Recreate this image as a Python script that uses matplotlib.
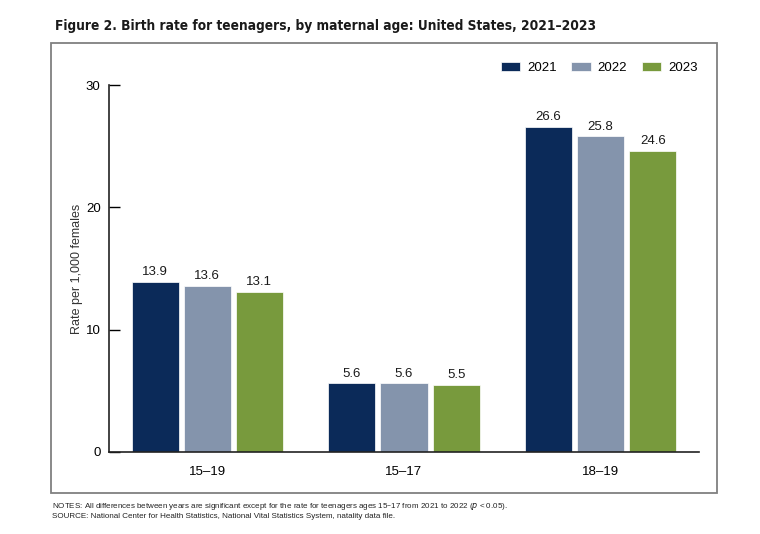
import matplotlib.pyplot as plt
import matplotlib.patches as mpatches
import numpy as np

# data
groups = ['15\u201319', '15\u201317', '18\u201319']
years = ['2021', '2022', '2023']
rate_2021 = [13.9, 5.6, 26.6]
rate_2022 = [13.6, 5.6, 25.8]
rate_2023 = [13.1, 5.5, 24.6]
colors = ['#0b2a59', '#8494ac', '#789a3d']

plt.rcParams['font.family'] = ['Liberation Sans', 'DejaVu Sans']

W, H = 760, 534
fig = plt.figure(figsize=(W / 100, H / 100), dpi=100)

# outer frame
frame = mpatches.Rectangle((51 / W, 1 - 493 / H), (717 - 51) / W, (493 - 43) / H,
                           transform=fig.transFigure, fill=False,
                           edgecolor='#808080', linewidth=1.3)
fig.patches.append(frame)

fig.text(55 / W, 1 - 26 / H,
         'Figure 2. Birth rate for teenagers, by maternal age: United States, 2021\u20132023',
         family=['DejaVu Sans'], fontstretch='condensed', fontweight='bold',
         fontsize=9.8, va='center', ha='left', color='#1a1a1a')

ax = fig.add_axes([109 / W, 1 - 452 / H, (699 - 109) / W, (452 - 85) / H])

x = np.arange(len(groups))
width = 0.24
step = 0.265
for i, (vals, c) in enumerate(zip([rate_2021, rate_2022, rate_2023], colors)):
    bars = ax.bar(x + (i - 1) * step, vals, width, color=c, label=years[i],
                  edgecolor='white', linewidth=0.5)
    for b, v in zip(bars, vals):
        ax.text(b.get_x() + b.get_width() / 2, v + 0.3, f'{v:.1f}',
                ha='center', va='bottom', fontsize=9.5, color='#1a1a1a')

ax.set_xlim(-0.5, 2.5)
ax.set_ylim(0, 30)
ax.set_yticks([0, 10, 20, 30])
ax.set_xticks(x)
ax.set_xticklabels(groups)
ax.tick_params(axis='y', direction='in', length=8, width=1, labelsize=9.5, pad=6)
ax.tick_params(axis='x', length=0, labelsize=9.5, pad=10)
for s in ['top', 'right']:
    ax.spines[s].set_visible(False)
for s in ['left', 'bottom']:
    ax.spines[s].set_linewidth(1.2)
    ax.spines[s].set_color('#222222')
ax.set_ylabel('Rate per 1,000 females', fontsize=9, labelpad=2, color='#333333')

leg = ax.legend(loc='upper right', bbox_to_anchor=(704 / W, 1 - 55 / H),
                bbox_transform=fig.transFigure, ncol=3, frameon=False,
                fontsize=9.5, handlelength=1.5, handleheight=0.7,
                columnspacing=1.1, handletextpad=0.5, borderpad=0)

fig.text(52 / W, 1 - 506 / H,
         'NOTES: All differences between years are significant except for the rate for teenagers ages 15\u201317 from 2021 to 2022 ($p$ < 0.05).',
         fontsize=5.8, va='center', ha='left', color='#222222')
fig.text(52 / W, 1 - 517 / H,
         'SOURCE: National Center for Health Statistics, National Vital Statistics System, natality data file.',
         fontsize=5.8, va='center', ha='left', color='#222222')

fig.savefig('out.png', dpi=100)
